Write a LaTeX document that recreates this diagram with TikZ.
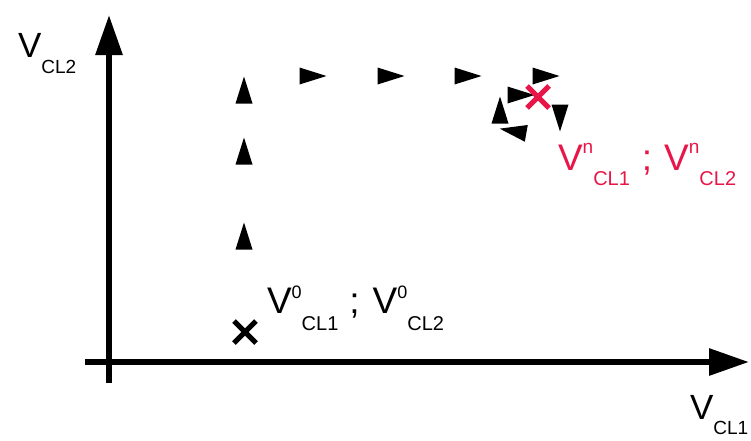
\documentclass[tikz,border=0pt]{standalone}
\usepackage{fontspec}
\setmainfont{Liberation Sans}
\usetikzlibrary{arrows.meta}
\definecolor{lblred}{RGB}{232,22,72}
\newcommand\fs[1]{\fontsize{#1}{#1}\selectfont}
\newcommand\tri[3]{\fill[shift={(#1,#2)},rotate=#3] (13.5,0) -- (-13.5,8.5) -- (-13.5,-8.5) -- cycle;}
\begin{document}
\begin{tikzpicture}[x=1pt,y=-1pt,
  axis/.style={line width=6pt,-{Triangle[length=40pt,width=26pt]}},
  lbl/.style={inner sep=0pt,outer sep=0pt,anchor=base west},
  cross/.style={line width=5pt}]
\useasboundingbox (0,0) rectangle (751,440);
% axes
\coordinate (yb) at (109,383);
\coordinate (yt) at (109,15);
\coordinate (xl) at (85,362);
\coordinate (xr) at (749,362);
\draw[axis] (yb) -- (yt);
\draw[axis] (xl) -- (xr);
% axis labels
\node[lbl] (ly) at (18,57) {\fs{35}V\raisebox{-16pt}{\fs{19}CL2}};
\node[lbl] (lx) at (690,419) {\fs{35}V\raisebox{-15pt}{\fs{19}CL1}};
% triangles along the path
\tri{244}{90}{90}
\tri{244}{151}{90}
\tri{244}{236}{90}
\tri{313}{76}{0}
\tri{391}{76}{0}
\tri{468}{76}{0}
\tri{546}{76}{0}
\tri{521}{95}{0}
\tri{500}{110}{90}
\tri{513}{131}{170}
\tri{560}{118}{-90}
% start point
\coordinate (p0) at (245,332);
\draw[cross] ([shift={(-11,-11)}]p0) -- ([shift={(11,11)}]p0);
\draw[cross] ([shift={(-11,11)}]p0) -- ([shift={(11,-11)}]p0);
\node[lbl] (l0) at (267,313) {\fs{37}V\raisebox{15pt}{\fs{18}0}\raisebox{-17pt}{\fs{20}CL1}\hspace{11pt};\hspace{13pt}V\raisebox{15pt}{\fs{18}0}\raisebox{-17pt}{\fs{20}CL2}};
% end point
\coordinate (pn) at (538,97);
\draw[cross,lblred] ([shift={(-11,-11)}]pn) -- ([shift={(11,11)}]pn);
\draw[cross,lblred] ([shift={(-11,11)}]pn) -- ([shift={(11,-11)}]pn);
\node[lbl,text=lblred] (ln) at (558,170) {\fs{37}V\raisebox{17pt}{\fs{19}n}\raisebox{-15pt}{\fs{20}CL1}\hspace{12pt};\hspace{12pt}V\raisebox{17pt}{\fs{19}n}\raisebox{-15pt}{\fs{20}CL2}};
\end{tikzpicture}
\end{document}
